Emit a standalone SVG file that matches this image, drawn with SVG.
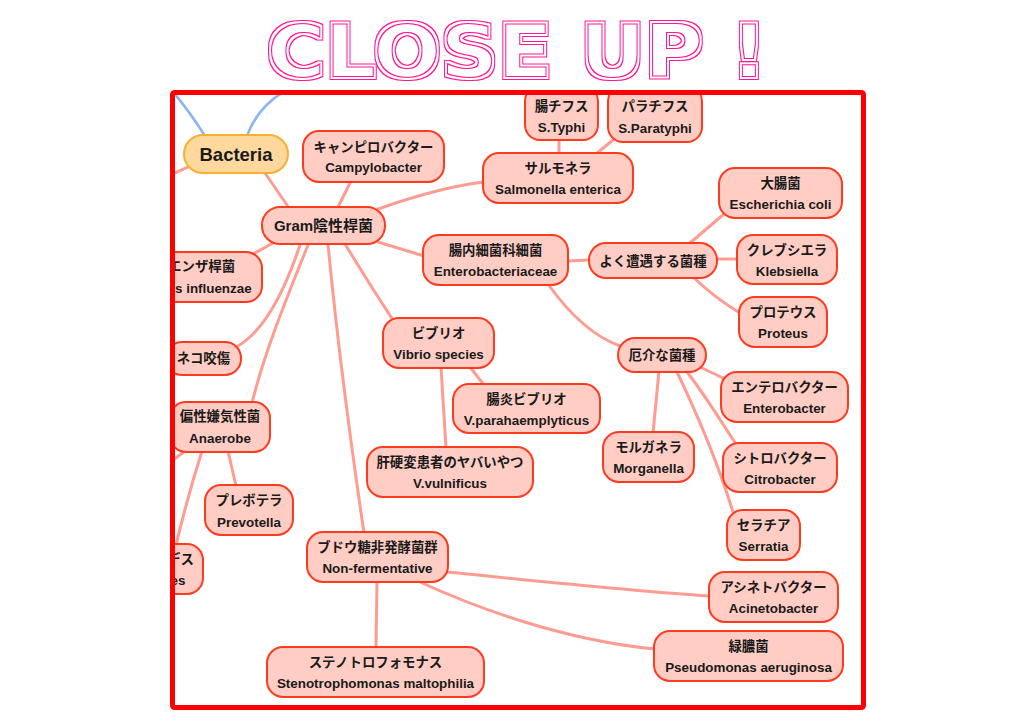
<svg xmlns="http://www.w3.org/2000/svg" width="1024" height="725" viewBox="0 0 1024 725">
<style>
.n rect{fill:#ffcdc4;stroke:#ff3b1f;stroke-width:2}
.t{font-family:"Liberation Sans","Noto Sans CJK JP",sans-serif;font-weight:bold;font-size:13.4px;fill:#1a1a1a;text-anchor:middle}
.c path{fill:none;stroke:#ff9c92;stroke-width:3;stroke-linecap:round}
.c path.b{stroke:#8ab4f8;stroke-width:2.6}
</style>
<defs>
<clipPath id="frameclip"><rect x="172.5" y="92.5" width="691" height="615"/></clipPath>
<filter id="outline" x="-5%" y="-30%" width="110%" height="160%">
<feMorphology in="SourceAlpha" operator="dilate" radius="3" result="d3"/>
<feMorphology in="SourceAlpha" operator="dilate" radius="1.6" result="d2"/>
<feComposite in="d3" in2="d2" operator="out" result="outer"/>
<feMorphology in="SourceAlpha" operator="erode" radius="1.2" result="e1"/>
<feComposite in="SourceAlpha" in2="e1" operator="out" result="inner"/>
<feMerge result="rings"><feMergeNode in="outer"/><feMergeNode in="inner"/></feMerge>
<feFlood flood-color="#ff1493"/>
<feComposite in2="rings" operator="in"/>
</filter>
</defs>
<rect width="1024" height="725" fill="#ffffff"/>
<g id="title">
<text x="267" y="77" textLength="500" lengthAdjust="spacingAndGlyphs" font-family="DejaVu Sans" font-weight="bold" font-size="73" fill="#000" filter="url(#outline)">CLOSE UP !</text>
</g>
<g clip-path="url(#frameclip)">
<g id="connectors" class="c">
<path class="b" d="M205,136 Q190,112 170,88"/>
<path class="b" d="M247,136 Q258,105 290,88"/>
<path d="M190,166 L160,180"/>
<path d="M265,173 L289,208"/>
<path d="M338,207 L351,181"/>
<path d="M378,209 C415,196 450,186 484,182"/>
<path d="M559,139 L559,154"/>
<path d="M613,140 L596,154"/>
<path d="M378,242 L424,256"/>
<path d="M567,261 L590,260"/>
<path d="M690,243 L724,214"/>
<path d="M716,259 L738,259"/>
<path d="M693,277 Q715,298 740,313"/>
<path d="M548,284 C570,315 595,337 620,346"/>
<path d="M700,367 L723,378"/>
<path d="M687,372 C705,395 720,420 736,444"/>
<path d="M677,372 C700,420 720,470 733,512"/>
<path d="M659,371 L653,433"/>
<path d="M345,244 Q370,285 393,320"/>
<path d="M470,367 L484,385"/>
<path d="M441,367 L446,448"/>
<path d="M328,244 Q340,370 364,533"/>
<path d="M377,581 L376,648"/>
<path d="M447,572 C530,580 620,590 710,596"/>
<path d="M420,582 C470,605 560,640 655,649"/>
<path d="M273,243 L253,254"/>
<path d="M300,245 C285,290 265,330 238,346"/>
<path d="M308,245 C290,290 265,350 252,403"/>
<path d="M228,451 L236,486"/>
<path d="M202,451 Q188,495 176,545"/>
<path d="M185,451 L160,470"/>
</g>
<g id="bacteria"><rect x="184" y="135" width="104" height="38" rx="19" fill="#ffd89e" stroke="#f9b030" stroke-width="2"/><text class="t" x="236" y="161" style="font-size:18.5px">Bacteria</text></g>
<g id="gram" class="n"><rect x="262" y="207" width="123" height="37" rx="18"/><text class="t" x="323.5" y="230.5" style="font-size:15px">Gram陰性桿菌</text></g>
<g id="campylobacter" class="n"><rect x="303" y="131" width="141" height="51" rx="16"/><text class="t" x="373.5" y="152">キャンピロバクター</text><text class="t" x="373.5" y="172">Campylobacter</text></g>
<g id="styphi" class="n"><rect x="525" y="86" width="73" height="54" rx="15"/><text class="t" x="561.5" y="111">腸チフス</text><text class="t" x="561.5" y="132">S.Typhi</text></g>
<g id="sparatyphi" class="n"><rect x="608" y="86" width="94" height="56" rx="15"/><text class="t" x="655" y="111">パラチフス</text><text class="t" x="655" y="133">S.Paratyphi</text></g>
<g id="salmonella" class="n"><rect x="483" y="153" width="150" height="50" rx="16"/><text class="t" x="558" y="173">サルモネラ</text><text class="t" x="558" y="193.5">Salmonella enterica</text></g>
<g id="enterobacteriaceae" class="n"><rect x="423" y="235" width="145" height="50" rx="16"/><text class="t" x="495.5" y="255">腸内細菌科細菌</text><text class="t" x="495.5" y="275.5">Enterobacteriaceae</text></g>
<g id="common" class="n"><rect x="589" y="243" width="128" height="35" rx="17"/><text class="t" x="653" y="265.5">よく遭遇する菌種</text></g>
<g id="ecoli" class="n"><rect x="719" y="168" width="123" height="50" rx="16"/><text class="t" x="780.5" y="188">大腸菌</text><text class="t" x="780.5" y="208.5">Escherichia coli</text></g>
<g id="klebsiella" class="n"><rect x="737" y="235" width="100" height="49" rx="16"/><text class="t" x="787" y="255">クレブシエラ</text><text class="t" x="787" y="275.5">Klebsiella</text></g>
<g id="proteus" class="n"><rect x="739" y="297" width="88" height="50" rx="16"/><text class="t" x="783" y="317">プロテウス</text><text class="t" x="783" y="337.5">Proteus</text></g>
<g id="troublesome" class="n"><rect x="618" y="338" width="88" height="34" rx="17"/><text class="t" x="662" y="360">厄介な菌種</text></g>
<g id="enterobacter" class="n"><rect x="721" y="372" width="127" height="50" rx="16"/><text class="t" x="784.5" y="392">エンテロバクター</text><text class="t" x="784.5" y="412.5">Enterobacter</text></g>
<g id="citrobacter" class="n"><rect x="723" y="443" width="114" height="49" rx="16"/><text class="t" x="780" y="463">シトロバクター</text><text class="t" x="780" y="483.5">Citrobacter</text></g>
<g id="serratia" class="n"><rect x="727" y="510" width="73" height="50" rx="16"/><text class="t" x="763.5" y="530">セラチア</text><text class="t" x="763.5" y="550.5">Serratia</text></g>
<g id="morganella" class="n"><rect x="603" y="432" width="91" height="50" rx="16"/><text class="t" x="648.5" y="452">モルガネラ</text><text class="t" x="648.5" y="472.5">Morganella</text></g>
<g id="vibrio" class="n"><rect x="383" y="318" width="111" height="50" rx="16"/><text class="t" x="438.5" y="338">ビブリオ</text><text class="t" x="438.5" y="358.5">Vibrio species</text></g>
<g id="parahaemolyticus" class="n"><rect x="453" y="384" width="147" height="49" rx="16"/><text class="t" x="526.5" y="404">腸炎ビブリオ</text><text class="t" x="526.5" y="424.5">V.parahaemplyticus</text></g>
<g id="vulnificus" class="n"><rect x="367" y="447" width="166" height="50" rx="16"/><text class="t" x="450" y="467">肝硬変患者のヤバいやつ</text><text class="t" x="450" y="487.5">V.vulnificus</text></g>
<g id="nonfermentative" class="n"><rect x="307" y="532" width="141" height="50" rx="16"/><text class="t" x="377.5" y="552">ブドウ糖非発酵菌群</text><text class="t" x="377.5" y="572.5">Non-fermentative</text></g>
<g id="stenotrophomonas" class="n"><rect x="267" y="647" width="217" height="50" rx="16"/><text class="t" x="375.5" y="667">ステノトロフォモナス</text><text class="t" x="375.5" y="687.5">Stenotrophomonas maltophilia</text></g>
<g id="acinetobacter" class="n"><rect x="709" y="572" width="129" height="50" rx="16"/><text class="t" x="773.5" y="592">アシネトバクター</text><text class="t" x="773.5" y="612.5">Acinetobacter</text></g>
<g id="pseudomonas" class="n"><rect x="654" y="631" width="189" height="50" rx="16"/><text class="t" x="748.5" y="651">緑膿菌</text><text class="t" x="748.5" y="671.5">Pseudomonas aeruginosa</text></g>
<g id="haemophilus" class="n"><rect x="88" y="252" width="174" height="50" rx="16"/><text class="t" x="175" y="271">インフルエンザ桿菌</text><text class="t" x="175" y="292.5">Haemophilus influenzae</text></g>
<g id="bite" class="n"><rect x="166" y="342" width="75" height="33" rx="16"/><text class="t" x="203.5" y="363">ネコ咬傷</text></g>
<g id="anaerobe" class="n"><rect x="170" y="402" width="100" height="50" rx="16"/><text class="t" x="220" y="421">偏性嫌気性菌</text><text class="t" x="220" y="442.5">Anaerobe</text></g>
<g id="prevotella" class="n"><rect x="205" y="485" width="88" height="50" rx="16"/><text class="t" x="249" y="505">プレボテラ</text><text class="t" x="249" y="526.5">Prevotella</text></g>
<g id="bacteroides" class="n"><rect x="91" y="544" width="112" height="50" rx="16"/><text class="t" x="147" y="564">バクテロイデス</text><text class="t" x="147" y="584.5">Bacteroides</text></g>
</g>
<g id="frame"><rect x="172.5" y="92.5" width="691" height="615" rx="2" fill="none" stroke="#ff0000" stroke-width="5"/></g>
</svg>
